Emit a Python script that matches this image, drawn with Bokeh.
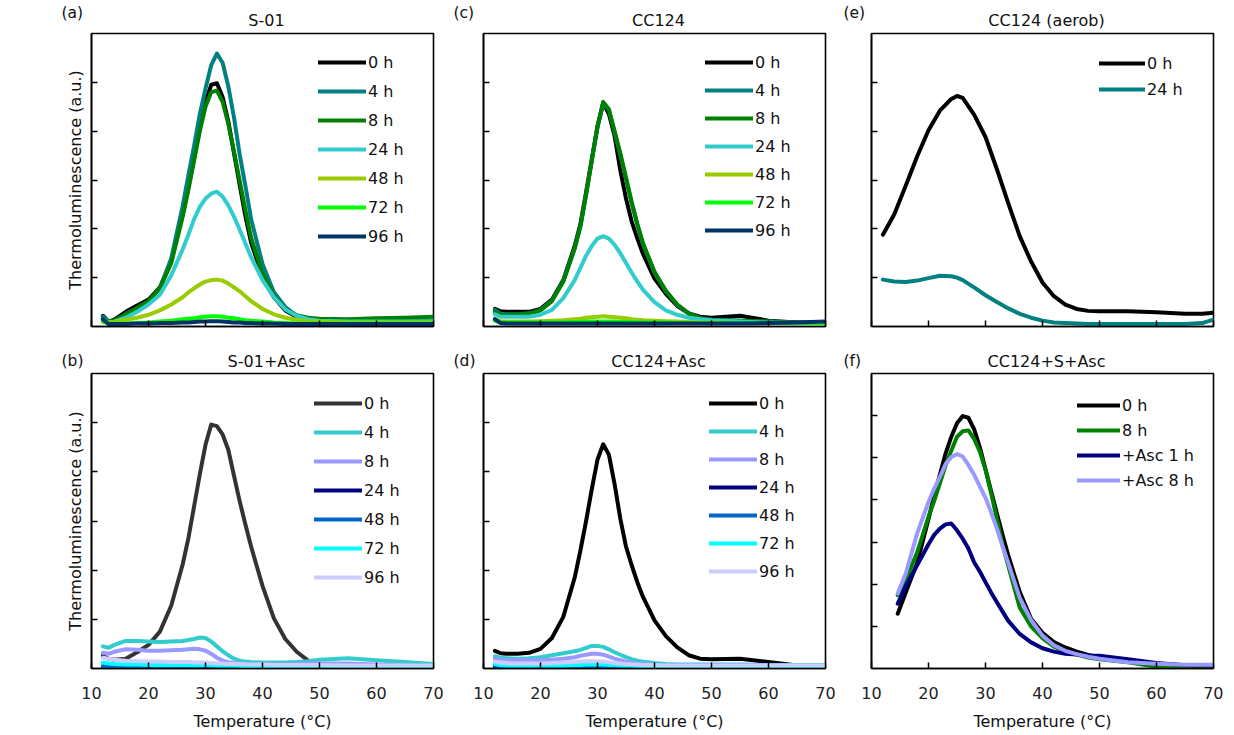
from bokeh.plotting import figure
from bokeh.layouts import column, row
from bokeh.models import Range1d, FixedTicker, Legend, LegendItem, Label, CustomJSTickFormatter
from bokeh.embed import file_html
from bokeh.resources import INLINE

FONT = "DejaVu Sans"

# ---------------- data ----------------
T_GRID = [12, 13, 14, 16, 18, 20, 22, 24, 26, 27, 28, 29, 30, 31, 32, 33, 34, 35, 36, 37, 38, 40, 42, 44, 46, 48, 50, 55, 60, 65, 70]

# (a) S-01
A_0h = [0.22, 0.10, 0.14, 0.30, 0.43, 0.55, 0.80, 1.35, 2.30, 2.85, 3.45, 4.05, 4.60, 4.95, 4.98, 4.70, 4.20, 3.55, 2.90, 2.26, 1.72, 1.02, 0.60, 0.33, 0.20, 0.14, 0.12, 0.10, 0.10, 0.10, 0.10]
A_4h = [0.20, 0.10, 0.12, 0.25, 0.38, 0.52, 0.78, 1.40, 2.47, 3.10, 3.70, 4.35, 4.87, 5.35, 5.59, 5.40, 4.92, 4.28, 3.52, 2.88, 2.20, 1.28, 0.70, 0.40, 0.22, 0.15, 0.12, 0.10, 0.10, 0.10, 0.10]
A_8h = [0.15, 0.10, 0.12, 0.25, 0.38, 0.52, 0.78, 1.30, 2.25, 2.80, 3.40, 4.00, 4.50, 4.80, 4.83, 4.60, 4.15, 3.58, 2.98, 2.38, 1.82, 1.08, 0.63, 0.36, 0.23, 0.18, 0.16, 0.15, 0.17, 0.18, 0.20]
A_24h = [0.15, 0.08, 0.10, 0.18, 0.30, 0.45, 0.65, 1.05, 1.58, 1.88, 2.20, 2.45, 2.62, 2.72, 2.76, 2.66, 2.48, 2.25, 1.98, 1.70, 1.42, 0.95, 0.60, 0.35, 0.22, 0.15, 0.12, 0.10, 0.10, 0.10, 0.10]
A_48h = [0.10, 0.08, 0.10, 0.14, 0.18, 0.24, 0.33, 0.45, 0.60, 0.70, 0.78, 0.86, 0.92, 0.95, 0.96, 0.94, 0.88, 0.80, 0.72, 0.62, 0.52, 0.36, 0.25, 0.18, 0.14, 0.11, 0.10, 0.08, 0.08, 0.08, 0.08]
A_72h = [0.10, 0.06, 0.06, 0.06, 0.07, 0.08, 0.10, 0.12, 0.15, 0.16, 0.17, 0.19, 0.20, 0.21, 0.21, 0.20, 0.18, 0.17, 0.15, 0.13, 0.12, 0.10, 0.08, 0.07, 0.06, 0.06, 0.06, 0.06, 0.06, 0.06, 0.06]
A_96h = [0.15, 0.05, 0.05, 0.05, 0.06, 0.06, 0.07, 0.07, 0.08, 0.08, 0.09, 0.10, 0.10, 0.11, 0.11, 0.10, 0.09, 0.08, 0.08, 0.07, 0.07, 0.06, 0.06, 0.05, 0.05, 0.05, 0.05, 0.05, 0.05, 0.05, 0.05]

# (c) CC124
C_0h = [0.36, 0.31, 0.30, 0.30, 0.30, 0.36, 0.55, 0.95, 1.65, 2.10, 2.75, 3.43, 4.10, 4.58, 4.35, 3.90, 3.20, 2.62, 2.15, 1.80, 1.48, 0.98, 0.67, 0.42, 0.27, 0.20, 0.18, 0.22, 0.12, 0.08, 0.07]
C_4h = [0.34, 0.26, 0.25, 0.25, 0.27, 0.34, 0.53, 0.93, 1.60, 2.05, 2.70, 3.40, 4.08, 4.56, 4.43, 3.98, 3.52, 3.02, 2.52, 2.08, 1.68, 1.10, 0.72, 0.44, 0.27, 0.17, 0.14, 0.12, 0.10, 0.08, 0.07]
C_8h = [0.30, 0.24, 0.23, 0.24, 0.26, 0.33, 0.52, 0.92, 1.60, 2.05, 2.70, 3.40, 4.10, 4.60, 4.45, 4.00, 3.55, 3.05, 2.55, 2.10, 1.70, 1.12, 0.73, 0.45, 0.27, 0.17, 0.14, 0.12, 0.10, 0.08, 0.07]
C_24h = [0.25, 0.20, 0.20, 0.20, 0.20, 0.24, 0.34, 0.58, 0.95, 1.20, 1.45, 1.65, 1.80, 1.85, 1.80, 1.67, 1.50, 1.30, 1.10, 0.92, 0.75, 0.50, 0.33, 0.24, 0.18, 0.15, 0.13, 0.10, 0.08, 0.07, 0.07]
C_48h = [0.15, 0.11, 0.10, 0.10, 0.10, 0.11, 0.12, 0.13, 0.15, 0.16, 0.18, 0.19, 0.20, 0.21, 0.20, 0.19, 0.18, 0.17, 0.15, 0.14, 0.13, 0.12, 0.11, 0.10, 0.09, 0.08, 0.08, 0.07, 0.07, 0.07, 0.07]
C_72h = [0.12, 0.08, 0.08, 0.08, 0.08, 0.08, 0.08, 0.08, 0.09, 0.09, 0.10, 0.10, 0.10, 0.10, 0.10, 0.10, 0.09, 0.09, 0.09, 0.08, 0.08, 0.08, 0.08, 0.07, 0.07, 0.07, 0.07, 0.07, 0.07, 0.07, 0.07]
C_96h = [0.15, 0.07, 0.06, 0.06, 0.06, 0.06, 0.06, 0.06, 0.06, 0.06, 0.06, 0.06, 0.06, 0.06, 0.06, 0.06, 0.06, 0.06, 0.06, 0.06, 0.06, 0.06, 0.06, 0.06, 0.06, 0.06, 0.06, 0.06, 0.07, 0.08, 0.10]

# (b) S-01+Asc
B_0h = [0.26, 0.20, 0.18, 0.20, 0.33, 0.48, 0.75, 1.28, 2.12, 2.65, 3.30, 3.95, 4.55, 4.96, 4.93, 4.76, 4.45, 3.92, 3.40, 2.93, 2.48, 1.68, 1.02, 0.60, 0.34, 0.16, 0.08, 0.04, 0.03, 0.03, 0.03]
B_4h = [0.45, 0.42, 0.48, 0.56, 0.56, 0.55, 0.54, 0.55, 0.56, 0.58, 0.60, 0.63, 0.62, 0.55, 0.45, 0.35, 0.27, 0.20, 0.16, 0.14, 0.13, 0.12, 0.12, 0.12, 0.13, 0.15, 0.18, 0.21, 0.17, 0.13, 0.09]
B_8h = [0.32, 0.30, 0.34, 0.39, 0.38, 0.36, 0.36, 0.37, 0.38, 0.39, 0.40, 0.39, 0.36, 0.30, 0.22, 0.16, 0.13, 0.11, 0.10, 0.09, 0.08, 0.08, 0.08, 0.08, 0.09, 0.10, 0.10, 0.10, 0.08, 0.06, 0.05]
B_24h = [0.03, 0.02, 0.02, 0.02, 0.02, 0.02, 0.02, 0.02, 0.02, 0.02, 0.02, 0.02, 0.02, 0.02, 0.02, 0.02, 0.02, 0.02, 0.02, 0.02, 0.02, 0.02, 0.02, 0.02, 0.02, 0.02, 0.02, 0.03, 0.03, 0.02, 0.02]
B_48h = [0.05, 0.04, 0.04, 0.03, 0.03, 0.03, 0.03, 0.03, 0.03, 0.03, 0.03, 0.03, 0.03, 0.03, 0.03, 0.03, 0.03, 0.03, 0.03, 0.03, 0.03, 0.03, 0.03, 0.03, 0.03, 0.03, 0.03, 0.04, 0.04, 0.03, 0.03]
B_72h = [0.12, 0.10, 0.09, 0.08, 0.08, 0.07, 0.07, 0.07, 0.07, 0.07, 0.07, 0.07, 0.07, 0.07, 0.06, 0.06, 0.06, 0.06, 0.05, 0.05, 0.05, 0.05, 0.05, 0.05, 0.05, 0.05, 0.05, 0.05, 0.05, 0.05, 0.05]
B_96h = [0.22, 0.20, 0.18, 0.16, 0.15, 0.14, 0.14, 0.13, 0.13, 0.13, 0.12, 0.12, 0.12, 0.11, 0.10, 0.10, 0.09, 0.09, 0.09, 0.08, 0.08, 0.08, 0.07, 0.07, 0.07, 0.07, 0.07, 0.06, 0.06, 0.06, 0.06]

# (d) CC124+Asc
D_0h = [0.36, 0.31, 0.30, 0.30, 0.32, 0.40, 0.62, 1.05, 1.85, 2.40, 3.00, 3.65, 4.25, 4.56, 4.35, 3.75, 3.05, 2.48, 2.10, 1.75, 1.45, 0.98, 0.66, 0.43, 0.27, 0.20, 0.19, 0.20, 0.13, 0.06, 0.05]
D_4h = [0.25, 0.22, 0.21, 0.20, 0.21, 0.23, 0.27, 0.31, 0.35, 0.38, 0.42, 0.46, 0.46, 0.44, 0.39, 0.33, 0.28, 0.23, 0.19, 0.16, 0.14, 0.11, 0.09, 0.08, 0.08, 0.08, 0.08, 0.08, 0.07, 0.07, 0.07]
D_8h = [0.20, 0.18, 0.17, 0.17, 0.17, 0.17, 0.18, 0.20, 0.23, 0.26, 0.28, 0.30, 0.30, 0.28, 0.24, 0.20, 0.17, 0.14, 0.12, 0.10, 0.09, 0.07, 0.06, 0.06, 0.06, 0.06, 0.06, 0.06, 0.06, 0.05, 0.05]
D_24h = [0.04, 0.03, 0.03, 0.03, 0.03, 0.03, 0.03, 0.03, 0.03, 0.03, 0.03, 0.03, 0.03, 0.03, 0.03, 0.03, 0.03, 0.03, 0.03, 0.03, 0.03, 0.03, 0.03, 0.03, 0.03, 0.03, 0.03, 0.03, 0.03, 0.03, 0.03]
D_48h = [0.06, 0.05, 0.04, 0.04, 0.04, 0.04, 0.04, 0.04, 0.04, 0.04, 0.05, 0.05, 0.05, 0.05, 0.05, 0.04, 0.04, 0.04, 0.04, 0.04, 0.04, 0.04, 0.04, 0.04, 0.04, 0.04, 0.04, 0.04, 0.04, 0.04, 0.04]
D_72h = [0.09, 0.07, 0.06, 0.06, 0.06, 0.06, 0.06, 0.06, 0.07, 0.07, 0.08, 0.08, 0.08, 0.08, 0.07, 0.07, 0.06, 0.06, 0.06, 0.05, 0.05, 0.05, 0.05, 0.05, 0.05, 0.05, 0.05, 0.05, 0.05, 0.05, 0.05]
D_96h = [0.14, 0.12, 0.11, 0.10, 0.10, 0.10, 0.11, 0.12, 0.13, 0.14, 0.15, 0.15, 0.15, 0.14, 0.13, 0.11, 0.10, 0.09, 0.08, 0.08, 0.07, 0.07, 0.06, 0.06, 0.06, 0.06, 0.06, 0.06, 0.06, 0.06, 0.06]

# (e) CC124 (aerob)
T_E = [12, 14, 16, 18, 20, 22, 24, 25, 26, 28, 30, 32, 34, 36, 38, 40, 42, 44, 46, 48, 50, 55, 60, 65, 68, 70]
E_0h = [1.88, 2.30, 2.88, 3.48, 4.02, 4.42, 4.66, 4.72, 4.68, 4.34, 3.88, 3.22, 2.52, 1.85, 1.33, 0.90, 0.62, 0.45, 0.36, 0.32, 0.31, 0.31, 0.29, 0.26, 0.26, 0.28]
E_24h = [0.96, 0.92, 0.91, 0.94, 0.99, 1.04, 1.03, 1.00, 0.95, 0.80, 0.64, 0.50, 0.37, 0.26, 0.18, 0.12, 0.08, 0.07, 0.06, 0.05, 0.05, 0.05, 0.05, 0.05, 0.07, 0.14]

# (f) CC124+S+Asc
T_F = [14.6, 16, 18, 20, 21, 22, 23, 24, 25, 26, 27, 28, 29, 30, 31, 32, 33, 34, 36, 38, 40, 42, 44, 46, 48, 50, 55, 60, 65, 70]
F_0h = [1.30, 1.80, 2.50, 3.55, 4.10, 4.60, 5.10, 5.50, 5.82, 5.99, 5.95, 5.68, 5.25, 4.73, 4.20, 3.68, 3.17, 2.68, 1.82, 1.18, 0.85, 0.63, 0.50, 0.40, 0.32, 0.27, 0.17, 0.11, 0.08, 0.08]
F_8h = [1.74, 2.10, 2.75, 3.60, 3.98, 4.40, 4.82, 5.17, 5.50, 5.63, 5.65, 5.45, 5.15, 4.72, 4.15, 3.55, 2.93, 2.43, 1.45, 1.00, 0.72, 0.52, 0.41, 0.33, 0.26, 0.22, 0.15, 0.04, 0.05, 0.07]
F_asc1h = [1.54, 1.95, 2.45, 2.95, 3.17, 3.32, 3.42, 3.44, 3.28, 3.08, 2.85, 2.52, 2.30, 2.05, 1.80, 1.57, 1.35, 1.13, 0.82, 0.62, 0.48, 0.40, 0.35, 0.33, 0.31, 0.30, 0.22, 0.13, 0.08, 0.07]
F_asc8h = [1.78, 2.25, 3.20, 3.95, 4.27, 4.55, 4.85, 5.02, 5.09, 5.03, 4.83, 4.60, 4.32, 4.05, 3.70, 3.32, 2.90, 2.50, 1.68, 1.15, 0.78, 0.55, 0.42, 0.34, 0.28, 0.23, 0.15, 0.11, 0.09, 0.09]

HOURS7 = ["0 h", "4 h", "8 h", "24 h", "48 h", "72 h", "96 h"]
COLORS_TOP = ["#000000", "#008080", "#008000", "#33CCCC", "#99CC00", "#00FF00", "#003366"]
COLORS_ASC_B = ["#333333", "#33CCCC", "#9999FF", "#000080", "#0066CC", "#00FFFF", "#CCCCFF"]
COLORS_ASC_D = ["#000000", "#33CCCC", "#9999FF", "#000080", "#0066CC", "#00FFFF", "#CCCCFF"]
LABELS_E = ["0 h", "24 h"]
COLORS_E = ["#000000", "#008080"]
LABELS_F = ["0 h", "8 h", "+Asc 1 h", "+Asc 8 h"]
COLORS_F = ["#000000", "#008000", "#000080", "#9999FF"]

FW, FH_TOP, FH_BOT = 342, 293, 295
# left / right borders per column (page layout only)
COL_LR = [(91, 17), (33, 15), (31, 10)]
STRIP_TOP_H, STRIP_BOT_H = 31, 28


def make_strip(col, h, tag, title, tag_y, title_y):
    bl, br = COL_LR[col]
    w = bl + FW + br
    s = figure(width=w, height=h, x_range=Range1d(0, w), y_range=Range1d(0, h),
               output_backend="svg", toolbar_location=None, min_border=0,
               x_axis_location=None, y_axis_location=None)
    s.outline_line_color = None
    s.grid.visible = False
    s.background_fill_color = "white"
    s.border_fill_color = "white"
    tag_x = 61 if col == 0 else 3
    s.add_layout(Label(x=tag_x, y=tag_y, text=tag, text_font=FONT, text_font_size="15.5px",
                       text_baseline="middle", text_align="left", text_color="#111111"))
    s.add_layout(Label(x=bl + FW / 2 + 4, y=title_y, text=title, text_font=FONT,
                       text_font_size="16px", text_baseline="middle", text_align="center",
                       text_color="#111111"))
    return s


def make_panel(col, xs, ys_list, labels, colors, ymax, fh, bt, bb,
               xlabels, leg_x, leg_first, leg_spacing, glyph_w):
    bl, br = COL_LR[col]
    p = figure(frame_width=FW, frame_height=fh,
               x_range=Range1d(10, 70), y_range=Range1d(0, ymax),
               output_backend="svg", toolbar_location=None,
               min_border_left=bl, min_border_right=br,
               min_border_top=bt, min_border_bottom=bb)
    p.background_fill_color = "white"
    p.border_fill_color = "white"
    p.grid.visible = False
    p.outline_line_color = "black"
    p.outline_line_width = 1.6

    renderers = []
    for xv, yv, c in zip(xs, ys_list, colors):
        r = p.line(xv, yv, line_color=c, line_width=4, line_cap="round", line_join="round")
        renderers.append(r)

    p.xaxis.ticker = FixedTicker(ticks=[10, 20, 30, 40, 50, 60, 70])
    p.yaxis.ticker = FixedTicker(ticks=list(range(1, ymax)))
    for ax in (p.xaxis, p.yaxis):
        ax.axis_line_color = "black"
        ax.axis_line_width = 1.6
        ax.major_tick_in = 6
        ax.major_tick_out = 0
        ax.major_tick_line_width = 1.5
        ax.major_tick_line_color = "black"
        ax.minor_tick_line_color = None
    p.yaxis.formatter = CustomJSTickFormatter(code="return ''")
    p.yaxis.major_label_standoff = 0
    if col == 0:
        p.yaxis.axis_label = "Thermoluminescence (a.u.)"
        p.yaxis.axis_label_text_font = FONT
        p.yaxis.axis_label_text_font_size = "16px"
        p.yaxis.axis_label_text_font_style = "normal"
        p.yaxis.axis_label_text_color = "#111111"
        p.yaxis.axis_label_standoff = 7
    if xlabels:
        p.xaxis.major_label_text_font = FONT
        p.xaxis.major_label_text_font_size = "16px"
        p.xaxis.major_label_text_color = "#222222"
        p.xaxis.major_label_standoff = 18
        p.xaxis.axis_label = "Temperature (°C)"
        p.xaxis.axis_label_text_font = FONT
        p.xaxis.axis_label_text_font_size = "16px"
        p.xaxis.axis_label_text_font_style = "normal"
        p.xaxis.axis_label_text_color = "#111111"
        p.xaxis.axis_label_standoff = 10
    else:
        p.xaxis.formatter = CustomJSTickFormatter(code="return ''")
        p.xaxis.major_label_standoff = 0

    n = len(labels)
    gh = 20
    leg_h = n * gh + (n - 1) * leg_spacing
    top_off = leg_first - gh / 2
    items = [LegendItem(label=lab, renderers=[r]) for lab, r in zip(labels, renderers)]
    leg = Legend(items=items, location=(leg_x, fh - top_off - leg_h),
                 glyph_width=glyph_w, glyph_height=gh, label_height=gh,
                 label_standoff=2, spacing=leg_spacing, padding=0, margin=0,
                 border_line_color=None, background_fill_alpha=0,
                 label_text_font=FONT, label_text_font_size="16px",
                 label_text_color="#111111")
    p.add_layout(leg, "center")
    return p


sa = make_strip(0, STRIP_TOP_H, "(a)", "S-01", 19, 11.3)
sc = make_strip(1, STRIP_TOP_H, "(c)", "CC124", 19, 11.3)
se = make_strip(2, STRIP_TOP_H, "(e)", "CC124 (aerob)", 19, 11.3)
sb = make_strip(0, STRIP_BOT_H, "(b)", "S-01+Asc", 10.3, 9.6)
sd = make_strip(1, STRIP_BOT_H, "(d)", "CC124+Asc", 10.3, 9.6)
sf = make_strip(2, STRIP_BOT_H, "(f)", "CC124+S+Asc", 10.3, 9.6)

pa = make_panel(0, [T_GRID] * 7, [A_0h, A_4h, A_8h, A_24h, A_48h, A_72h, A_96h],
                HOURS7, COLORS_TOP, 6, FH_TOP, 2, 17, False, 227, 29, 9, 48)
pc = make_panel(1, [T_GRID] * 7, [C_0h, C_4h, C_8h, C_24h, C_48h, C_72h, C_96h],
                HOURS7, COLORS_TOP, 6, FH_TOP, 2, 17, False, 222, 29, 8, 48)
pe = make_panel(2, [T_E] * 2, [E_0h, E_24h],
                LABELS_E, COLORS_E, 6, FH_TOP, 2, 17, False, 228, 30, 6, 46)
pb = make_panel(0, [T_GRID] * 7, [B_0h, B_4h, B_8h, B_24h, B_48h, B_72h, B_96h],
                HOURS7, COLORS_ASC_B, 6, FH_BOT, 2, 60, True, 223, 30, 9, 48)
pd = make_panel(1, [T_GRID] * 7, [D_0h, D_4h, D_8h, D_24h, D_48h, D_72h, D_96h],
                HOURS7, COLORS_ASC_D, 6, FH_BOT, 2, 60, True, 226, 30, 8, 48)
pf = make_panel(2, [T_F] * 4, [F_0h, F_8h, F_asc1h, F_asc8h],
                LABELS_F, COLORS_F, 7, FH_BOT, 2, 60, True, 206, 32, 5, 43)

layout = column(row(sa, sc, se), row(pa, pc, pe), row(sb, sd, sf), row(pb, pd, pf))

open("out.html", "w").write(file_html(layout, INLINE))
